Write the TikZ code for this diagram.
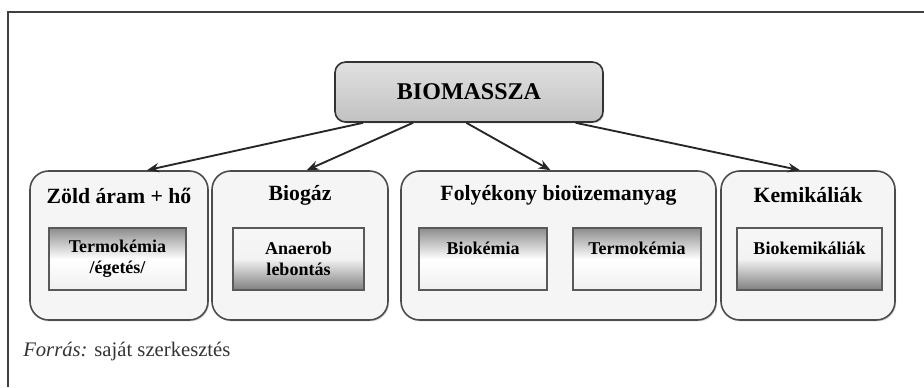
\documentclass[tikz,border=0pt]{standalone}
\usepackage{fontspec}
\setmainfont{Liberation Serif}
\usetikzlibrary{positioning,calc,arrows.meta,shadows}

\tikzset{
	gruppe/.style={draw=black!70, line width=1.2pt, rounded corners=14pt, fill=black!4, inner sep=0pt, minimum height=111.75pt, drop shadow={opacity=.3, shadow xshift=.9pt, shadow yshift=-1.1pt}},
	fokusz/.style={draw=black!80, line width=1.2pt, rounded corners=8pt, top color=black!12, bottom color=black!24, inner sep=0pt, minimum width=201pt, minimum height=45pt, font=\fontsize{18}{20}\selectfont\bfseries, drop shadow={opacity=.3, shadow xshift=.9pt, shadow yshift=-1.1pt}},
	cim/.style={inner sep=0pt, font=\fontsize{16.3}{18}\selectfont\bfseries},
	eljaras/.style={draw=black!65, line width=1pt, inner sep=0pt, minimum height=46.5pt, align=center, font=\fontsize{13.5}{16}\selectfont\bfseries},
	fentsotet/.style={eljaras, top color=black!45, bottom color=black!6, middle color=white},
	lentsotet/.style={eljaras, top color=black!3, bottom color=black!50, middle color=black!5},
	nyil/.style={-{Stealth[length=9pt, width=7pt]}, line width=1.4pt, black!85}
}

\begin{document}
\begin{tikzpicture}[x=0.75pt, y=-0.75pt]
	\useasboundingbox (0,0) rectangle (924,387);
	\draw[line width=1.4pt, black!75] (924,12) -- (8,12) -- (8,387);
	
	\node[fokusz] (bio) at (469,92) {BIOMASSZA};
	
	\node[gruppe, minimum width=133.5pt] (zold) at (119,245.5) {};
	\node[gruppe, minimum width=132pt] (gaz) at (300,245.5) {};
	\node[gruppe, minimum width=236.25pt] (foly) at (558.5,245.5) {};
	\node[gruppe, minimum width=130.5pt] (kem) at (808,245.5) {};
	
	\node[cim] (zoldc) at ([yshift=-19pt]zold.north) {Zöld áram + hő};
	\node[cim] (gazc) at ([yshift=-19pt]gaz.north) {Biogáz};
	\node[cim] (folyc) at ([yshift=-19pt]foly.north) {Folyékony bioüzemanyag};
	\node[cim] (kemc) at ([yshift=-19pt]kem.north) {Kemikáliák};
	
	\node[fentsotet, minimum width=102.75pt] (termo1) at (117.5,259) {Termokémia\\/égetés/};
	\node[lentsotet, minimum width=98.25pt] (anaerob) at (298.5,259) {Anaerob\\lebontás};
	\node[fentsotet, minimum width=96pt] (biokem) at (483,259) {Biokémia\\\mbox{}};
	\node[fentsotet, minimum width=96pt] (termo2) at (637,259) {Termokémia\\\mbox{}};
	\node[lentsotet, minimum width=108.75pt] (biokemik) at (809.5,259) {Biokemikáliák\\\mbox{}};
	
	\draw[nyil] ([xshift=-79.5pt]bio.south) -- ([xshift=21pt]zold.north);
	\draw[nyil] ([xshift=-42pt]bio.south) -- ([xshift=5pt]gaz.north);
	\draw[nyil] ([xshift=-2pt]bio.south) -- ([xshift=-6pt]foly.north);
	\draw[nyil] ([xshift=80pt]bio.south) -- ([xshift=-6pt]kem.north);
	
	\node[anchor=west, inner sep=0pt, black!80, font=\fontsize{15.5}{18}\selectfont] (forras) at (23,352) {\textit{Forrás:} saját szerkesztés};
\end{tikzpicture}
\end{document}
